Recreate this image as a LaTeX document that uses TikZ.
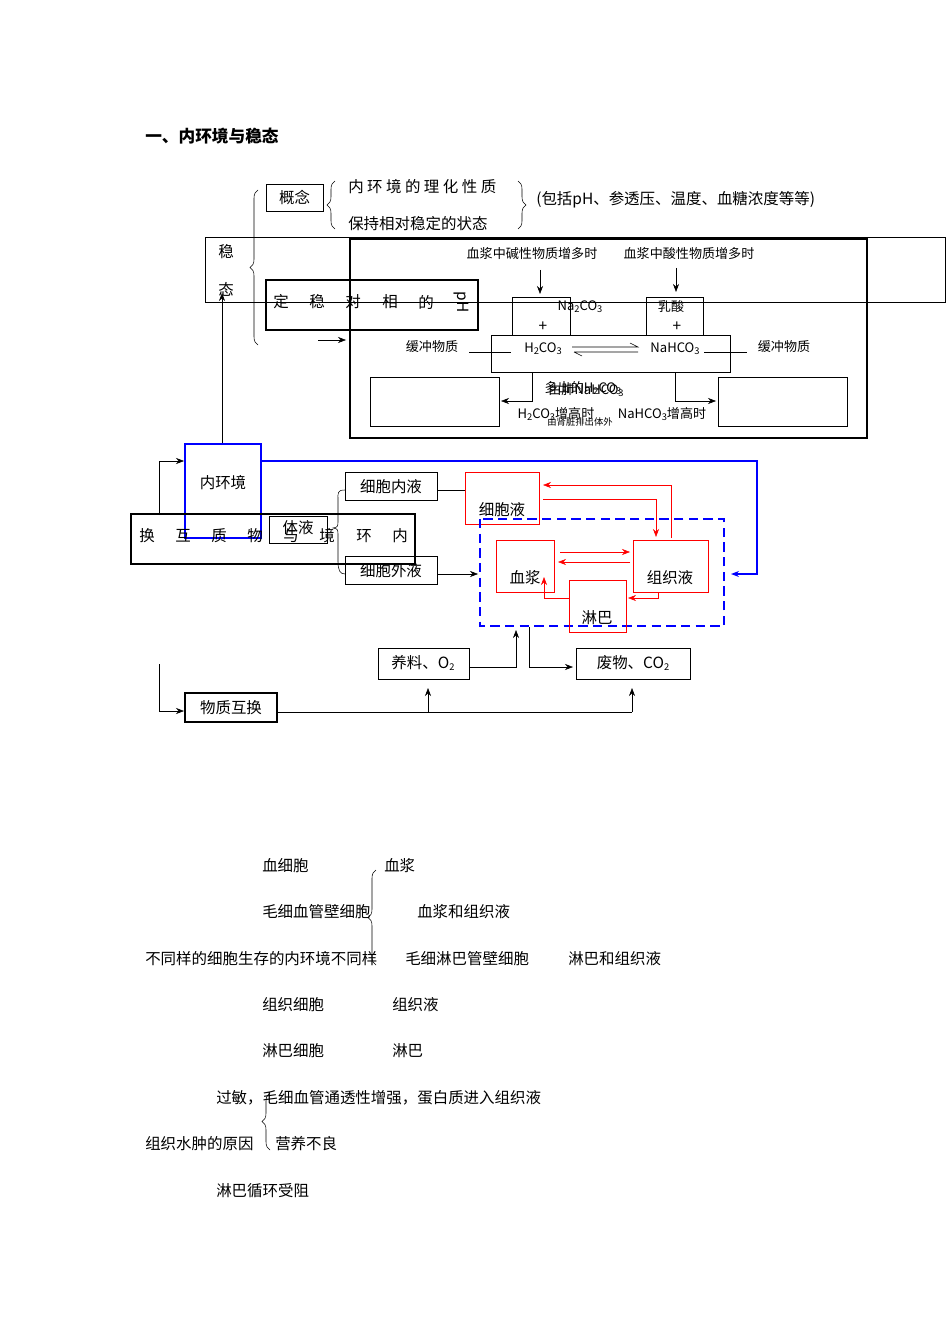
\documentclass[tikz,border=0pt]{standalone}
\usepackage{fontspec}
\setmainfont{Noto Sans CJK SC}
\usetikzlibrary{decorations.pathreplacing,arrows.meta}
\newcommand{\sbsc}[1]{\raisebox{-0.3ex}{\scriptsize #1}}
\begin{document}
\begin{tikzpicture}[x=0.75pt,y=-0.75pt,
 t/.style={inner sep=0,font=\fontsize{11.6}{13}\selectfont},
 ts/.style={inner sep=0,font=\fontsize{9.8}{11}\selectfont},
 bx/.style={draw,thin},
 arr/.style={-{Stealth[length=6pt]}},
 rarr/.style={red,-{Stealth[length=6pt]}},
 br/.style={decorate,decoration={brace,amplitude=6pt}}]
\useasboundingbox (0,0) rectangle (950,1344);
\node[t,anchor=west,font=\bfseries\fontsize{12.5}{14}\selectfont] (title) at (145,136) {一、内环境与稳态};
% top
\node[bx,minimum width=57*0.75pt,minimum height=27*0.75pt,t,draw] (gn) at (294.5,197.5) {概念};
\draw[br] (335,229) -- (335,181);
\node[t,anchor=west] (p1) at (348,187) {内 环 境 的 理 化 性 质};
\node[t,anchor=west] (p2) at (348,224) {保持相对稳定的状态};
\draw[br] (518,181) -- (518,229);
\node[t,anchor=west] (p3) at (536,200) {(包括pH、参透压、温度、血糖浓度等等)};
\draw[thin] (205,237) rectangle (945,302);
\node[t] (w1) at (226,252) {稳};
\node[t] (w2) at (226,289) {态};
\draw[br] (258,345) -- (258,190);
\draw[line width=1.6pt] (350,239) rectangle (867,438);
\draw[line width=1.6pt] (266,280) rectangle (478,330);
\foreach \c/\x in {定/281,稳/317,对/353,相/390,的/426} \node[t] at (\x,302) {\c};
\node[t,rotate=-90] (ph) at (461,302) {pH};
\coordinate (ar1) at (318,340); \coordinate (ar2) at (346,340);
\draw[arr] (ar1) -- (ar2);
\node[ts] (alk) at (532,254) {血浆中碱性物质增多时};
\node[ts] (acd) at (689,254) {血浆中酸性物质增多时};
\draw[thin] (512,335) |- (570,297) -- (570,335);
\draw[thin] (646,335) |- (703,297) -- (703,335);
\draw[arr] (540,270) -- (540,294);
\draw[arr] (676,268) -- (676,292);
\node[ts] (na2) at (580,307) {Na\sbsc{2}CO\sbsc{3}};
\node[ts] (rs) at (671,307) {乳酸};
\node[t] at (543,327) {+};
\node[t] at (677,327) {+};
\draw[thin] (491,335) rectangle (730,372);
\node[ts] (h2) at (543,349) {H\sbsc{2}CO\sbsc{3}};
\node[ts] (nah) at (675,349) {NaHCO\sbsc{3}};
\draw[thin] (572,347) -- (638,347) -- (630,343);
\draw[thin] (574,352) -- (638,352) (574,352) -- (582,356);
\node[ts] (hc1) at (432,347) {缓冲物质};
\node[ts] (hc2) at (784,347) {缓冲物质};
\draw (469,352) -- (511,352);
\draw (704,352) -- (747,352);
\draw[thin] (370,377) rectangle (499,426);
\draw[thin] (718,377) rectangle (847,426);
\draw[arr] (532,372) |- (501,401);
\draw[arr] (675,372) |- (716,401);
\node[ts] at (583,388) {多出的H\sbsc{2}CO\sbsc{3}};
\node[ts] at (586,390) {由肺NaHCO\sbsc{3}};
\node[ts] at (556,414) {H\sbsc{2}CO\sbsc{3}增高时};
\node[ts] at (662,414) {NaHCO\sbsc{3}增高时};
\node[inner sep=0,font=\fontsize{7}{8}\selectfont] at (580,422) {由肾脏排出体外};
% middle
\draw[arr] (222,443) -- (222,293);
\draw[blue,line width=1.4pt] (185,444) rectangle (261,538);
\node[t] (nhj) at (223,483) {内环境};
\draw[blue,line width=1.4pt,-{Stealth[length=6pt]}] (261,461) -| (757,574) -- (731,574);
\draw[arr] (159,515) |- (184,461);
\draw[line width=1.6pt] (131,514) rectangle (415,564);
\foreach \c/\x in {换/147,互/183,质/219,物/255,与/291,境/327,环/364,内/400} \node[t] at (\x,536) {\c};
\draw[thin] (269,516) rectangle (327,543);
\node[t] (ty) at (298,528) {体液};
\draw[thin] (345,490) .. controls (337,490) and (338,493) .. (338,500) -- (338,520) .. controls (338,527) .. (333,528) .. controls (338,529) .. (338,536) -- (338,562) .. controls (338,570) and (340,574) .. (345,574);
\draw[thin] (345,472) rectangle (437,500);
\node[t] (xbn) at (391,487) {细胞内液};
\draw[thin] (345,556) rectangle (437,584);
\node[t] (xbw) at (391,571) {细胞外液};
\draw (437,490) -- (465,490);
\draw[arr] (437,574) -- (478,574);
\draw[red] (465,472) rectangle (539,524);
\node[t] (xby) at (502,510) {细胞液};
\draw[blue,line width=1.4pt,dashed,dash pattern=on 7pt off 4pt] (480,519) rectangle (724,626);
\draw[red] (496,540) rectangle (554,592);
\node[t] (xj) at (525,578) {血浆};
\draw[red] (633,540) rectangle (708,592);
\node[t] (zzy) at (670,578) {组织液};
\draw[red] (569,580) rectangle (626,632);
\node[t] (lb) at (597,618) {淋巴};
\draw[rarr] (671,538) |- (543,485);
\draw[rarr] (543,499) -| (656,537);
\draw[rarr] (560,552) -- (630,552);
\draw[rarr] (630,562) -- (558,562);
\draw[rarr] (569,598) -| (544,577);
\draw[rarr] (658,592) |- (628,598);
\draw[thin] (378,648) rectangle (469,679);
\node[t] (yl) at (423,663) {养料、O\sbsc{2}};
\draw[thin] (576,648) rectangle (690,679);
\node[t] (fw) at (633,663) {废物、CO\sbsc{2}};
\draw[arr] (470,667) -| (516,630);
\draw[arr] (529,627) |- (573,667);
\draw[arr] (159,664) |- (184,711);
\draw[line width=1.6pt] (185,693) rectangle (277,722);
\node[t] (wzhh) at (231,708) {物质互换};
\draw (278,712) -- (632,712);
\draw[arr] (428,712) -- (428,688);
\draw[arr] (632,712) -- (632,688);
% bottom text
\node[t,anchor=west] at (262,866) {血细胞};
\node[t,anchor=west] at (384,866) {血浆};
\node[t,anchor=west] at (262,912) {毛细血管壁细胞};
\node[t,anchor=west] at (417,912) {血浆和组织液};
\node[t,anchor=west] at (145,959) {不同样的细胞生存的内环境不同样};
\node[t,anchor=west] at (405,959) {毛细淋巴管壁细胞};
\node[t,anchor=west] at (568,959) {淋巴和组织液};
\node[t,anchor=west] at (262,1005) {组织细胞};
\node[t,anchor=west] at (392,1005) {组织液};
\node[t,anchor=west] at (262,1051) {淋巴细胞};
\node[t,anchor=west] at (392,1051) {淋巴};
\draw[br] (376,965) -- (376,870);
\node[t,anchor=west] at (216,1098) {过敏，毛细血管通透性增强，蛋白质进入组织液};
\node[t,anchor=west] at (145,1144) {组织水肿的原因};
\node[t,anchor=west] at (275,1144) {营养不良};
\draw[br] (270,1150) -- (270,1093);
\node[t,anchor=west] at (216,1191) {淋巴循环受阻};
\end{tikzpicture}
\end{document}
